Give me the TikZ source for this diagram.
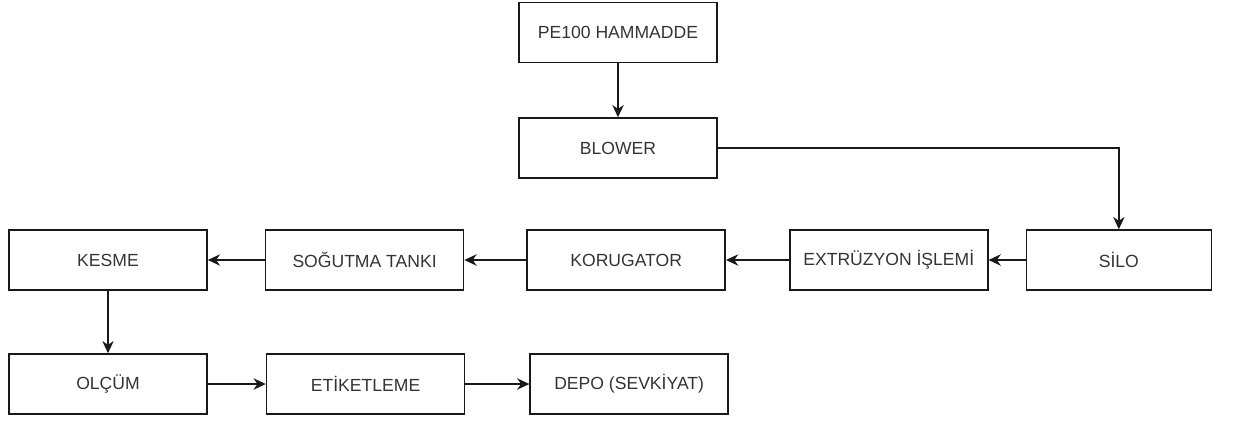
\documentclass[tikz,border=0pt]{standalone}
\usepackage{fontspec}
\setmainfont{Liberation Sans}
\usetikzlibrary{positioning}
\usetikzlibrary{arrows.meta}
\tikzstyle{process} = [rectangle, 
minimum width=3.96cm, 
minimum height=1.2cm, 
text centered, 
draw=black!90,
line width=0.9pt,
text=black!80,
font=\fontsize{10}{12}\selectfont]
\tikzstyle{arrow} = [line width=0.9pt,-{Stealth[length=7pt,width=6.5pt]}, black!90]
\begin{document}
\begin{tikzpicture}
    \useasboundingbox (0,0) rectangle (25.12,-8.42);
    % top
    \node (ham) [process] at (12.36,-0.65) {PE100 HAMMADDE};
    \node (blower) [process, below=1.08cm of ham] {BLOWER};
    % middle row, right to left
    \node (kesme) [process] at (2.16,-5.2) {KESME};
    \node (sog) [process, right=1.14cm of kesme] {SOĞUTMA TANKI};
    \node (koru) [process, right=1.24cm of sog] {KORUGATOR};
    \node (extr) [process, right=1.26cm of koru] {EXTRÜZYON İŞLEMİ};
    \node (silo) [process, minimum width=3.7cm, right=0.74cm of extr] {SİLO};
    % bottom row
    \node (olcum) [process] at (2.16,-7.68) {OLÇÜM};
    \node (etik) [process, right=1.16cm of olcum] {ETİKETLEME};
    \node (depo) [process, right=1.28cm of etik] {DEPO (SEVKİYAT)};

    \draw [arrow] (ham) -- (blower);
    \draw [arrow] (blower.east) -| (silo.north);
    \draw [arrow] (silo) -- (extr);
    \draw [arrow] (extr) -- (koru);
    \draw [arrow] (koru) -- (sog);
    \draw [arrow] (sog) -- (kesme);
    \draw [arrow] (kesme) -- (olcum);
    \draw [arrow] (olcum) -- (etik);
    \draw [arrow] (etik) -- (depo);
\end{tikzpicture}
\end{document}
